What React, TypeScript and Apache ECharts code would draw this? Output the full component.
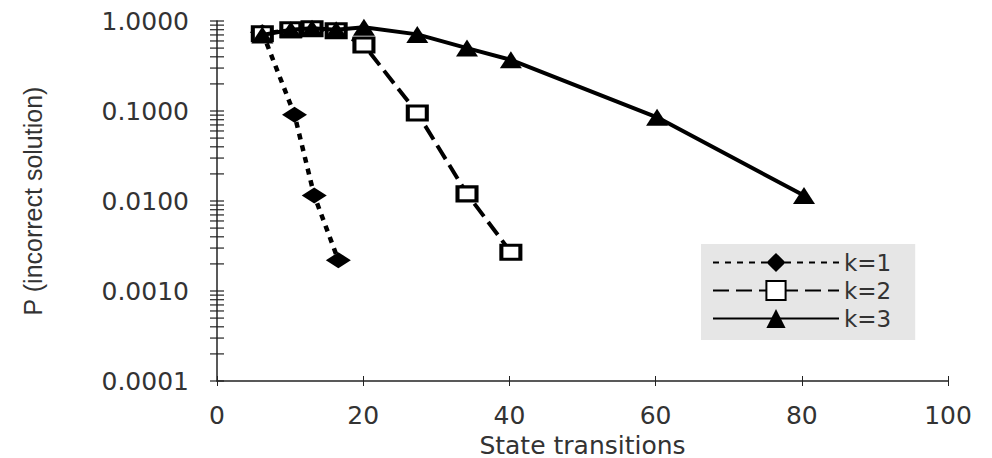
import React, { useEffect, useRef } from "react";
import * as echarts from "echarts";

const seriesNames = ["k=1", "k=2", "k=3"];
const xK1 = [6.2, 10.6, 13.3, 16.6];
const yK1 = [0.75, 0.091, 0.0115, 0.0022];
const xK2 = [6.2, 10.1, 13.0, 16.3, 20.1, 27.4, 34.2, 40.2];
const yK2 = [0.72, 0.8, 0.82, 0.78, 0.54, 0.095, 0.012, 0.0027];
const xK3 = [6.2, 10.1, 13.0, 16.3, 20.1, 27.4, 34.2, 40.2, 60.2, 80.3];
const yK3 = [0.7, 0.8, 0.83, 0.8, 0.85, 0.71, 0.5, 0.37, 0.085, 0.0115];
const xTicks = [0, 20, 40, 60, 80, 100];
const yDecades = [0.0001, 0.001, 0.01, 0.1, 1];
const yMultipliers = [1, 2, 3, 4, 5, 6, 7, 8, 9];

const pairs = (xs: number[], ys: number[]) => xs.map((x, i) => [x, ys[i]]);

export default function App() {
  const ref = useRef<HTMLDivElement>(null);
  useEffect(() => {
    document.body.style.margin = "0";
    const chart = echarts.init(ref.current!, null, { renderer: "svg" });
    const yTickValues: number[] = [];
    yDecades.forEach((d, i) => {
      if (i === yDecades.length - 1) yTickValues.push(d);
      else yMultipliers.forEach((m) => yTickValues.push(d * m));
    });
    const txt = "#333";
    const axisColor = "#222";
    chart.setOption({
      animation: false,
      grid: { left: 217, right: 44, top: 21, bottom: 77, containLabel: false, outerBoundsMode: "none" },
      xAxis: [
        {
          type: "value",
          min: xTicks[0],
          max: xTicks[xTicks.length - 1],
          interval: 20,
          position: "bottom",
          name: "State transitions",
          nameLocation: "middle",
          nameGap: 52,
          nameMoveOverlap: false,
          nameTextStyle: { fontFamily: "DejaVu Sans", fontSize: 25, lineHeight: 24, color: txt },
          axisLine: { lineStyle: { color: axisColor, width: 1.5 } },
          axisTick: { show: true, length: 5, lineStyle: { color: axisColor } },
          axisLabel: { fontFamily: "DejaVu Sans", fontSize: 25, lineHeight: 26, color: txt, margin: 21 },
          splitLine: { show: false },
        },
        {
          type: "value",
          min: xTicks[0],
          max: xTicks[xTicks.length - 1],
          interval: 20,
          position: "bottom",
          axisLine: { show: false },
          axisTick: { show: true, inside: true, length: 5, lineStyle: { color: axisColor } },
          axisLabel: { show: false },
          splitLine: { show: false },
        },
      ],
      yAxis: {
        type: "log",
        logBase: 10,
        min: yDecades[0],
        max: yDecades[yDecades.length - 1],
        name: "P (incorrect solution)",
        nameLocation: "middle",
        nameRotate: 90,
        nameGap: 172,
        nameMoveOverlap: false,
        nameTextStyle: { fontFamily: "Liberation Sans", fontSize: 25, color: txt },
        axisLine: { show: true, lineStyle: { color: axisColor, width: 1.5 } },
        axisTick: { show: false },
        axisLabel: {
          fontFamily: "DejaVu Sans",
          fontSize: 25,
          color: txt,
          margin: 28,
          formatter: (v: number) => v.toFixed(4),
        },
        splitLine: { show: false },
      },
      legend: {
        data: seriesNames,
        orient: "vertical",
        left: 701,
        top: 244,
        backgroundColor: "#e6e6e6",
        padding: [7, 24, 10, 11],
        itemWidth: 126,
        itemHeight: 24,
        itemGap: 5,
        textStyle: { fontFamily: "DejaVu Sans", fontSize: 23, color: txt },
      },
      series: [
        {
          type: "custom",
          name: "yticks",
          silent: true,
          clip: false,
          xAxisIndex: 0,
          data: yTickValues.map((v) => [0, v]),
          renderItem: (params: any, api: any) => {
            const c = api.coord([api.value(0), api.value(1)]);
            return {
              type: "line",
              shape: { x1: c[0] - 7, y1: c[1], x2: c[0] + 7, y2: c[1] },
              style: { stroke: axisColor, lineWidth: 1.2 },
            };
          },
          z: 1,
        },
        {
          type: "line",
          name: seriesNames[0],
          data: pairs(xK1, yK1),
          symbol: "diamond",
          symbolSize: [25, 16],
          itemStyle: { color: "#000" },
          lineStyle: { color: "#000", width: 4.5, type: [6, 6] },
          z: 3,
        },
        {
          type: "line",
          name: seriesNames[1],
          data: pairs(xK2, yK2),
          symbol: "rect",
          symbolSize: [19, 14],
          itemStyle: { color: "#fff", borderColor: "#000", borderWidth: 3.5 },
          lineStyle: { color: "#000", width: 4, type: [16, 7] },
          z: 4,
        },
        {
          type: "line",
          name: seriesNames[2],
          data: pairs(xK3, yK3),
          symbol: "triangle",
          symbolSize: [22, 17],
          itemStyle: { color: "#000" },
          lineStyle: { color: "#000", width: 4 },
          z: 5,
        },
      ],
    });
    return () => chart.dispose();
  }, []);
  return (
    <div
      ref={ref}
      style={{ position: "fixed", left: 0, top: 0, width: 992, height: 458, background: "#fff" }}
    />
  );
}
